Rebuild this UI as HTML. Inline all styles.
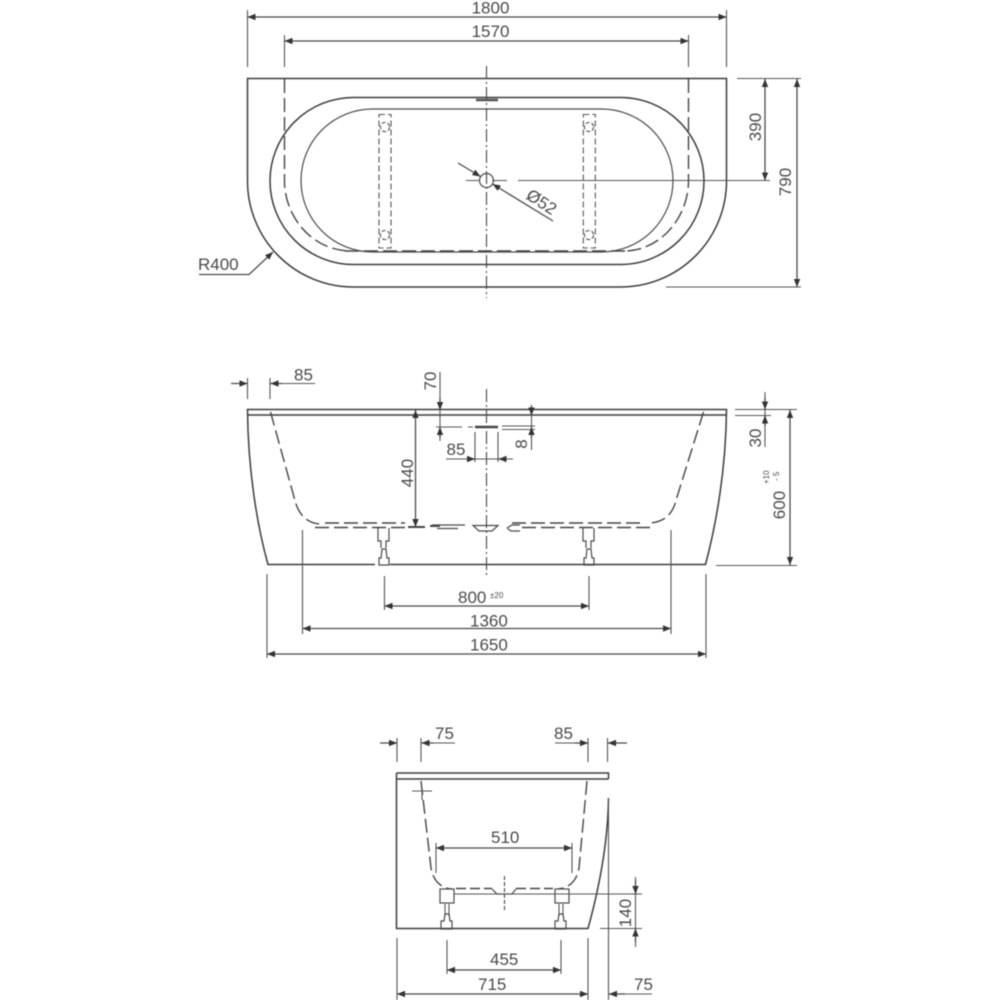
<!DOCTYPE html>
<html><head><meta charset="utf-8">
<style>
html,body{margin:0;padding:0;background:#fff;width:1000px;height:1000px;overflow:hidden}
svg{display:block;filter:blur(.45px)}
text{font-family:"Liberation Sans",sans-serif;font-size:17px;fill:#4a4a4a;stroke:none}
.o{fill:none;stroke:#3c3c3c;stroke-width:1.5}
.m{fill:none;stroke:#4a4a4a;stroke-width:1.2}
.d{fill:none;stroke:#4a4a4a;stroke-width:1.3;marker-end:url(#a)}
.b{fill:none;stroke:#4a4a4a;stroke-width:1.3;marker-start:url(#a);marker-end:url(#a)}
.e{fill:none;stroke:#555;stroke-width:1.1}
.h{fill:none;stroke:#444;stroke-width:1.4;stroke-dasharray:14 5}
.s{fill:none;stroke:#555;stroke-width:1.1;stroke-dasharray:6 3}
.c{fill:none;stroke:#444;stroke-width:1.1;stroke-dasharray:13 3 2 3}
</style></head><body>
<svg width="1000" height="1000" viewBox="0 0 1000 1000" xmlns="http://www.w3.org/2000/svg">
<defs>
<marker id="a" orient="auto-start-reverse" markerUnits="userSpaceOnUse" markerWidth="10" markerHeight="8" refX="8" refY="4"><path d="M0 .8L8 4L0 7.2Z" fill="#333"/></marker>
</defs>

<!-- TOP VIEW -->
<path class="o" d="M247.5 78.5H726.5V181A106 106 0 0 1 620.5 287H353.5A106 106 0 0 1 247.5 181Z"/>
<rect class="o" x="270" y="97.5" width="434" height="167" rx="83.5"/>
<rect class="m" x="301" y="109" width="372" height="143" rx="71.5"/>
<path class="h" d="M284.5 79V181C284.5 215 310 250 350 251"/>
<path class="h" d="M688.5 79V181C688.5 215 663 250 625 251"/>
<path class="h" stroke-width="1.6" d="M345 251H625"/>
<line class="c" x1="486.5" y1="66" x2="486.5" y2="298"/>
<line x1="476" y1="100" x2="498" y2="100" stroke="#555" stroke-width="2.6"/>
<rect class="s" x="379" y="114.5" width="12" height="133.5"/>
<rect class="s" x="583.3" y="114.5" width="12" height="133.5"/>
<circle cx="385" cy="127" r="4.6" class="s" style="stroke-dasharray:4 2"/>
<circle cx="385" cy="235" r="4.6" class="s" style="stroke-dasharray:4 2"/>
<circle cx="589" cy="127" r="4.6" class="s" style="stroke-dasharray:4 2"/>
<circle cx="589" cy="235" r="4.6" class="s" style="stroke-dasharray:4 2"/>
<circle cx="486.5" cy="180.5" r="7" class="m" stroke-width="1.4"/>
<path class="e" d="M466 180.5H480M492 180.5H507M518 180.5H770"/>
<path class="d" d="M458 163L480.5 176.5"/>
<path class="d" d="M553 221L492.5 184"/>
<text transform="translate(525 198) rotate(33)" font-size="17">Ø52</text>

<path class="e" d="M247.5 10V67M726.5 10V67M284.5 35V67M688.5 35V67"/>
<line class="b" x1="247.5" y1="17" x2="726.5" y2="17"/>
<line class="b" x1="284.5" y1="41" x2="688.5" y2="41"/>
<text x="490.5" y="13.5" text-anchor="middle">1800</text>
<text x="490.5" y="37" text-anchor="middle">1570</text>
<text x="198" y="270">R400</text>
<path class="d" d="M199 274.5H249L273 252"/>
<path class="e" d="M737 78.5H801M666 287H801"/>
<line class="b" x1="765" y1="79" x2="765" y2="180.5"/>
<line class="b" x1="797" y1="79" x2="797" y2="287"/>
<text transform="translate(761 127) rotate(-90)" text-anchor="middle">390</text>
<text transform="translate(791 182) rotate(-90)" text-anchor="middle">790</text>

<!-- SIDE VIEW -->
<path class="o" d="M390 564.5H705.5C716 525 726 470 726.5 409.5H247.5C248 470 257 525 268 564.5H375"/>
<line class="o" x1="247.5" y1="415" x2="726.5" y2="415"/>
<path class="h" d="M270.5 412L294 497C298 515 307 523 320 524"/>
<path class="h" d="M703.5 412L677 497C673 515 664 522 650 523"/>
<path class="h" d="M325 523H405M315 527.5H405M640 523H507M650 527.5H520"/>
<path d="M408 527H425M430 526H440" stroke="#444" stroke-width="2" fill="none"/>
<path class="m" d="M432 525H465M437 528.5H458"/>
<path class="m" d="M473 525.5H498L492 531H479ZM507 528L512 525H520M507 528L511 531H520"/>
<line class="c" x1="486.5" y1="389" x2="486.5" y2="577"/>
<path class="m" d="M378 528V541H381V548M389 528V541H386V548"/>
<path class="m" d="M381 558L382 549H386L387 558H389V565H379V558Z"/>
<path class="m" d="M583 528V541H586V548M594 528V541H591V548"/>
<path class="m" d="M586 558L587 549H591L592 558H594V565H584V558Z"/>

<path class="e" d="M247.5 378V399M270 378V399"/>
<path class="e" d="M270 383.5H315"/>
<path class="d" d="M231 383.5H247.5"/>
<path class="d" d="M282 383.5H270.5"/>
<text x="294" y="380.5">85</text>
<path class="e" d="M440 372V441"/>
<path class="d" d="M440 398V410"/>
<path class="d" d="M440 438V427"/>
<text transform="translate(436 381) rotate(-90)" text-anchor="middle">70</text>
<path class="e" d="M436 427H462M468 427H473M502 426H535M502 429.5H535"/>
<line x1="475" y1="427" x2="498" y2="427" stroke="#444" stroke-width="2.4"/>
<line class="b" x1="415.5" y1="410" x2="415.5" y2="527"/>
<text transform="translate(413 473) rotate(-90)" text-anchor="middle">440</text>
<path class="e" d="M475 432V462M498 432V462"/>
<path class="e" d="M446 459H513"/>
<path class="d" d="M468 459H475"/>
<path class="d" d="M506 459H498.5"/>
<text x="446.5" y="455">85</text>
<path class="e" d="M531.5 410V450"/>
<path class="d" d="M531.5 405V415.5"/>
<path class="d" d="M531.5 438V427"/>
<text transform="translate(527 444) rotate(-90)" text-anchor="middle">8</text>
<path class="e" d="M735 409.5H797M735 415.5H771M765 392V447M716 565.5H797"/>
<path class="d" d="M765 398V409.5"/>
<path class="d" d="M765 426V415.5"/>
<text transform="translate(761 438) rotate(-90)" text-anchor="middle">30</text>
<line class="b" x1="790" y1="410" x2="790" y2="565"/>
<text transform="translate(785 505) rotate(-90)" text-anchor="middle">600</text>
<text transform="translate(769 484) rotate(-90)" style="font-size:8px">+10</text>
<text transform="translate(779 481) rotate(-90)" style="font-size:8px">- 5</text>

<path class="e" d="M384.5 576V610M589 576V610M302.5 530V634M671 530V634M267 574V658M706 574V658"/>
<line class="b" x1="384.5" y1="606" x2="589" y2="606"/>
<line class="b" x1="302.5" y1="628.5" x2="671" y2="628.5"/>
<line class="b" x1="267" y1="654" x2="706" y2="654"/>
<text x="458" y="603">800</text>
<text x="490" y="598" style="font-size:8px">±20</text>
<text x="470" y="626.5">1360</text>
<text x="470" y="650.5">1650</text>

<!-- END VIEW -->
<path class="o" d="M396.5 773H608.5V779M396.5 773V928.5H588C600 885 608 840 608.5 798"/>
<line class="o" x1="396.5" y1="779" x2="608.5" y2="779"/>
<path class="e" d="M608.5 798V1000"/>
<path class="h" d="M421 781L431 868C433 880 440 888 452 889"/>
<path class="h" d="M587 781L579 868C577 880 570 888 558 889"/>
<path d="M456 888.5H492M516 888.5H553" stroke="#444" stroke-width="1.4" stroke-dasharray="10 4" fill="none"/>
<path class="e" d="M412 791H432M422 791V800"/>
<path class="m" d="M492 889L497 894H512L516 889"/>
<path class="c" style="stroke-dasharray:4 2" d="M504.5 876V911"/>
<rect class="m" x="440" y="889" width="14" height="14" stroke-width="1.5"/>
<rect class="m" x="555" y="889" width="14" height="14" stroke-width="1.5"/>
<path class="e" d="M454 894H642"/>
<path class="e" d="M445 904V916M449 904V916M559 904V916M563 904V916"/>
<path class="m" d="M444 921L445 914H449L450 921H452V929H441V921Z"/>
<path class="m" d="M558 921L559 914H563L564 921H566V929H555V921Z"/>
<path class="e" d="M436 843V873M572 843V873"/>
<line class="b" x1="436" y1="848" x2="572" y2="848"/>
<text x="491" y="843">510</text>
<path class="e" d="M635.5 877V947M600 928.5H642"/>
<path class="d" d="M635.5 880V894"/>
<path class="d" d="M635.5 942V928.5"/>
<text transform="translate(631 913) rotate(-90)" text-anchor="middle">140</text>
<path class="e" d="M397 738V762M421 738V762M421 743H455M588 738V762M607.5 738V762M555 743H588"/>
<path class="d" d="M380 743H397"/>
<path class="d" d="M433 743H421.5"/>
<path class="d" d="M575 743H588"/>
<path class="d" d="M627 743H608"/>
<text x="435" y="739">75</text>
<text x="554" y="739">85</text>
<path class="e" d="M447 940V974M561 940V974M397 938V1000M588 938V1000"/>
<line class="b" x1="447" y1="970" x2="561" y2="970"/>
<line class="b" x1="397" y1="994" x2="588" y2="994"/>
<text x="490" y="965">455</text>
<text x="478" y="990">715</text>
<path class="e" d="M608 994H652"/>
<path class="d" d="M625 994H609"/>
<text x="634" y="990">75</text>
</svg>
</body></html>
